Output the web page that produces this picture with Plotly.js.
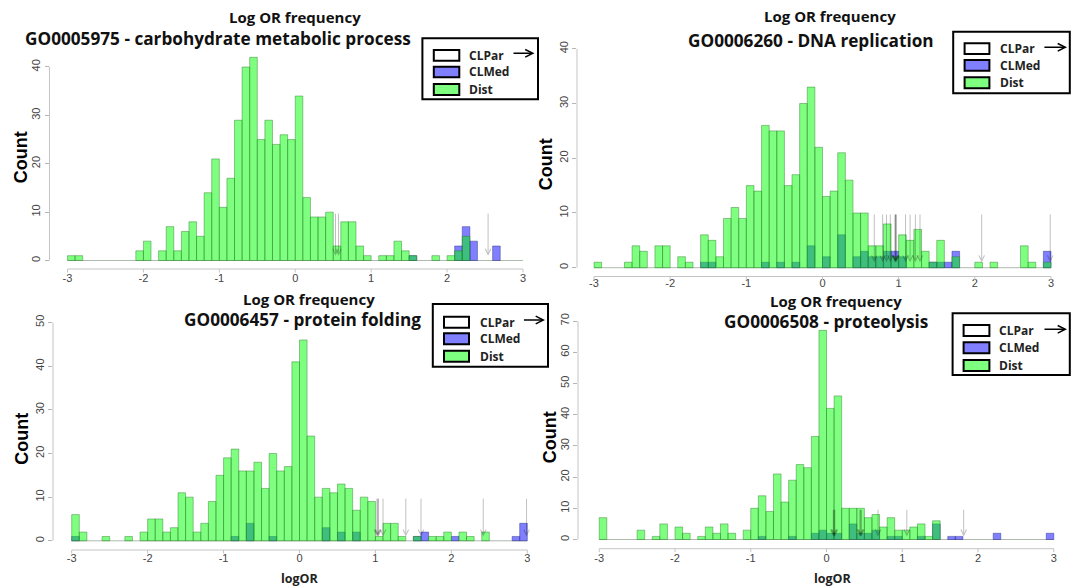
<!DOCTYPE html>
<html><head><meta charset="utf-8">
<script src="https://cdn.plot.ly/plotly-3.0.1.min.js"></script>
<style>html,body{margin:0;padding:0;background:#fff;overflow:hidden}#chart{width:1072px;height:587px}</style>
</head><body><div id="chart"></div>
<script>
// ---- data ----
const binLeft = [-3.0,-2.9,-2.8,-2.7,-2.6,-2.5,-2.4,-2.3,-2.2,-2.1,-2.0,-1.9,-1.8,-1.7,-1.6,-1.5,-1.4,-1.3,-1.2,-1.1,-1.0,-0.9,-0.8,-0.7,-0.6,-0.5,-0.4,-0.3,-0.2,-0.1,0.0,0.1,0.2,0.3,0.4,0.5,0.6,0.7,0.8,0.9,1.0,1.1,1.2,1.3,1.4,1.5,1.6,1.7,1.8,1.9,2.0,2.1,2.2,2.3,2.4,2.5,2.6,2.7,2.8,2.9];

const dist1 = [1,1,0,0,0,0,0,0,0,2, 4,0,2,7,2,6,8,5,14,21, 11,17,29,40,42,25,29,24,26,25, 34,13,9,9,10,3,8,8,3,1, 0,1,1,4,2,1,0,0,1,0, 1,2,5,0,0,0,0,0,0,0];
const med1  = [0,0,0,0,0,0,0,0,0,0, 0,0,0,0,0,0,0,0,0,0, 0,0,0,0,0,0,0,0,0,0, 0,0,0,0,0,0,0,0,0,0, 0,0,0,0,0,1,0,0,0,0, 0,3,7,4,0,0,3,0,0,0];
const par1  = [0.53,0.57,2.54];

const dist2 = [1,0,0,0,1,4,3,0,4,4, 0,2,1,0,6,5,2,9,11,9, 15,14,26,25,25,15,17,30,33,22, 13,14,21,16,10,10,4,4,8,2, 6,5,7,3,1,5,0,2,0,0, 1,0,1,0,0,0,4,1,0,1];
const med2  = [0,0,0,0,0,0,0,0,0,0, 0,0,0,0,1,1,0,0,0,0, 0,0,1,0,1,0,1,0,4,0, 2,0,6,0,2,3,2,2,3,3, 2,0,0,0,1,1,1,3,0,0, 0,0,0,0,0,0,0,0,0,3];
const par2  = [0.68,0.79,0.84,0.89,0.95,0.96,0.96,0.97,1.09,1.15,1.22,1.28,2.09,2.99];

const dist3 = [6,2,0,0,1,0,0,1,0,2, 5,5,2,3,11,10,2,4,9,15, 19,21,16,16,18,12,20,16,17,41, 46,24,10,12,11,13,12,7,10,9, 1,4,4,1,0,1,0,1,1,2, 0,2,1,0,2,0,0,0,0,0];
const med3  = [1,0,0,0,0,0,0,0,0,0, 0,0,0,0,0,0,0,0,0,0, 0,1,0,4,0,0,1,0,0,0, 0,0,0,3,0,2,0,2,0,0, 0,0,0,0,0,1,2,0,0,0, 1,0,0,0,0,0,0,0,1,4];
const par3  = [1.02,1.03,1.04,1.10,1.40,1.60,2.42,2.99];

const dist4 = [7,0,0,0,0,3,0,1,5,0, 4,2,0,1,4,2,5,2,0,3, 10,14,9,21,12,19,24,23,33,67, 42,46,10,10,10,7,8,4,7,3, 3,4,5,1,6,0,0,0,0,0, 0,0,0,0,0,0,0,0,0,0];
const med4  = [0,0,0,0,0,0,0,0,0,0, 0,0,0,0,0,0,0,0,0,0, 0,1,0,0,0,1,0,0,2,3, 2,2,0,5,2,2,3,0,1,1, 0,0,1,0,5,0,1,1,0,0, 0,0,2,0,0,0,0,0,0,2];
const par4  = [0.09,0.10,0.11,0.44,0.45,0.46,0.68,1.06,1.81];

const xTickVals = [-3,-2,-1,0,1,2,3];
const xTickText = ['-3','-2','-1','0','1','2','3'];
const yTicks1 = [0,10,20,30,40];
const yTicks2 = [0,10,20,30,40];
const yTicks3 = [0,10,20,30,40,50];
const yTicks4 = [0,10,20,30,40,50,60,70];

const titleLine1 = 'Log OR frequency';
const goTitles = ['GO0005975 - carbohydrate metabolic process','GO0006260 - DNA replication','GO0006457 - protein folding','GO0006508 - proteolysis'];
const legendLabels = ['CLPar','CLMed','Dist'];

// ---- layout geometry (pixels) ----
const W = 1072, H = 587;
const panels = [
  {dist:dist1, med:med1, par:par1, yt:yTicks1, go:goTitles[0],
   cal:{xm3:67.5, xp3:523, y0:260.5, ytv:40, ytp:67, axX:49.5, axY:269, lblY:278},
   t1:[295,17.3], t2:[218,38.3], count:[20.7,157.5], logor:null,
   leg:{box:[422.4,538,38.3,99.3], sw:[433.8,459.3], rows:[[50,60.7],[66.7,77.3],[84,95]], tx:467.2, arr:[512,534.5,53.3]}},
  {dist:dist2, med:med2, par:par2, yt:yTicks2, go:goTitles[1],
   cal:{xm3:594, xp3:1051, y0:267.7, ytv:40, ytp:48.8, axX:577, axY:276.5, lblY:283.8},
   t1:[830,15.7], t2:[810.5,40], count:[546.3,164], logor:null,
   leg:{box:[953.2,1069.8,31.7,93.3], sw:[964.6,989.4], rows:[[43.3,54],[60,70.7],[77.3,88.3]], tx:998, arr:[1042.9,1067,47.3]}},
  {dist:dist3, med:med3, par:par3, yt:yTicks3, go:goTitles[2],
   cal:{xm3:71.7, xp3:527.3, y0:540.8, ytv:50, ytp:322.5, axX:53, axY:550, lblY:558},
   t1:[309,299], t2:[302,319.5], count:[22.4,438.3], logor:[299.7,578.3],
   leg:{box:[432.8,548,304,366.7], sw:[444,469], rows:[[316.7,327.7],[333.3,344.3],[350.7,361.7]], tx:477.6, arr:[522.4,545,320]}},
  {dist:dist4, med:med4, par:par4, yt:yTicks4, go:goTitles[3],
   cal:{xm3:599.3, xp3:1055.3, y0:539.5, ytv:70, ytp:321, axX:578, axY:548.7, lblY:558},
   t1:[836.4,300.5], t2:[825.6,321.5], count:[549.8,437.5], logor:[832.5,578.3],
   leg:{box:[952.6,1069.8,313.3,375], sw:[963.6,989.4], rows:[[325,336],[342.3,353.3],[360,371]], tx:997.4, arr:[1043,1067,329.3]}}
];

const TICKFONT = {family:'Liberation Sans, Arial, sans-serif', size:11, color:'#444'};
const TITLEFONT = 'Open Sans, Noto Sans, sans-serif';
const AXCOL = '#c4c4c4';
const px = v => v / W;
const py = v => 1 - v / H;

const traces = [];
const shapes = [];
const annotations = [];
const layout = {
  width: W, height: H, margin:{l:0,r:0,t:0,b:0},
  paper_bgcolor:'#fff', plot_bgcolor:'rgba(0,0,0,0)',
  barmode:'overlay', showlegend:false, hovermode:false
};

panels.forEach((p, i) => {
  const n = i + 1;
  const xa = n === 1 ? 'x' : 'x' + n;
  const ya = n === 1 ? 'y' : 'y' + n;
  const c = p.cal;
  const sx = (c.xp3 - c.xm3) / 6;
  const sy = (c.y0 - c.ytp) / c.ytv;
  const xlo = -3 - (c.xm3 - c.axX) / sx;
  const rightPx = c.xp3 + 0.24 * sx;
  const xhi = 3 + (rightPx - c.xp3) / sx;
  const ylo = -(c.axY - c.y0) / sy;
  const yTop = p.yt[p.yt.length - 1];
  const yhi = Math.max(yTop, Math.max(...p.dist), Math.max(...p.med)) * 1.04;
  const topPx = c.y0 - yhi * sy;

  // x axis labels placed close under the drawn axis line (R-style)
  layout['xaxis' + (n === 1 ? '' : n)] = {
    domain:[px(c.axX), px(rightPx)], range:[xlo, xhi], anchor:'free', position:py(c.lblY - 8.5),
    showgrid:false, zeroline:false, showline:false, ticks:'',
    tickmode:'array', tickvals:xTickVals, ticktext:xTickText, tickfont:TICKFONT, fixedrange:true
  };
  layout['yaxis' + (n === 1 ? '' : n)] = {
    domain:[py(c.axY), py(topPx)], range:[ylo, yhi], anchor: xa,
    showgrid:false, zeroline:false, showline:false,
    ticks:'outside', ticklen:4, tickwidth:1, tickcolor:'#b5b5b5',
    tickmode:'array', tickvals:p.yt, ticktext:p.yt.map(String), tickangle:-90, tickfont:TICKFONT, fixedrange:true
  };

  // CLMed (blue) first, then Dist (green) on top
  traces.push({type:'bar', x:binLeft, y:p.med.map(v => v || null), width:0.1, offset:0,
    xaxis:xa, yaxis:ya, marker:{color:'rgba(0,0,255,0.5)', line:{color:'rgba(40,40,130,0.55)', width:0.8}}, hoverinfo:'skip'});
  traces.push({type:'bar', x:binLeft, y:p.dist.map(v => v || null), width:0.1, offset:0,
    xaxis:xa, yaxis:ya, marker:{color:'rgba(0,255,0,0.5)', line:{color:'rgba(40,120,40,0.55)', width:0.8}}, hoverinfo:'skip'});

  // baseline of histogram bins
  shapes.push({type:'line', xref:xa, yref:ya, x0:-3, x1:3, y0:0, y1:0, layer:'below',
    line:{color:'rgba(120,140,120,0.6)', width:1}});
  // axis lines (R style: only across tick range) and x tick marks
  shapes.push({type:'line', xref:xa, yref:'paper', x0:-3, x1:3, y0:py(c.axY), y1:py(c.axY),
    line:{color:AXCOL, width:1}});
  xTickVals.forEach(t => {
    shapes.push({type:'line', xref:xa, yref:'paper', x0:t, x1:t, y0:py(c.axY), y1:py(c.axY + 3.5),
      line:{color:AXCOL, width:1}});
  });
  shapes.push({type:'line', xref:'paper', yref:ya, x0:px(c.axX), x1:px(c.axX), y0:0, y1:yTop,
    line:{color:AXCOL, width:1}});

  // CLPar arrows
  p.par.forEach(v => {
    annotations.push({xref:xa, yref:ya, axref:xa, ayref:ya, x:v, y:1, ax:v, ay:10, text:'',
      showarrow:true, arrowhead:5, arrowsize:1.1, arrowwidth:1, arrowcolor:'rgba(0,0,0,0.24)'});
  });

  // titles
  annotations.push({xref:'paper', yref:'paper', x:px(p.t1[0]), y:py(p.t1[1]), xanchor:'center', yanchor:'middle',
    text:titleLine1, showarrow:false, font:{family:TITLEFONT, size:15, color:'#111', weight:700}});
  annotations.push({xref:'paper', yref:'paper', x:px(p.t2[0]), y:py(p.t2[1]), xanchor:'center', yanchor:'middle',
    text:p.go, showarrow:false, font:{family:TITLEFONT, size:17.2, color:'#111', weight:700}});
  annotations.push({xref:'paper', yref:'paper', x:px(p.count[0]), y:py(p.count[1]), xanchor:'center', yanchor:'middle',
    text:'Count', textangle:-90, showarrow:false, font:{family:'Liberation Sans, Arial, sans-serif', size:18, color:'#000', weight:700}});
  if (p.logor) {
    annotations.push({xref:'paper', yref:'paper', x:px(p.logor[0]), y:py(p.logor[1]), xanchor:'center', yanchor:'middle',
      text:'logOR', showarrow:false, font:{family:TITLEFONT, size:12.5, color:'#222', weight:700}});
  }

  // legend
  const L = p.leg;
  shapes.push({type:'rect', xref:'paper', yref:'paper', x0:px(L.box[0]), x1:px(L.box[1]), y0:py(L.box[3]), y1:py(L.box[2]),
    fillcolor:'rgba(255,255,255,1)', line:{color:'#000', width:2}});
  const fills = ['#ffffff', '#7f7fff', '#7fff7f'];
  L.rows.forEach((r, k) => {
    shapes.push({type:'rect', xref:'paper', yref:'paper', x0:px(L.sw[0]), x1:px(L.sw[1]), y0:py(r[1]), y1:py(r[0]),
      fillcolor:fills[k], line:{color:'#000', width:2}});
    annotations.push({xref:'paper', yref:'paper', x:px(L.tx), y:py((r[0] + r[1]) / 2), xanchor:'left', yanchor:'middle',
      text:legendLabels[k], showarrow:false, font:{family:TITLEFONT, size:12, color:'#222', weight:700}});
  });
  annotations.push({xref:'paper', yref:'paper', x:px(L.arr[1]), y:py(L.arr[2]), ax:-(L.arr[1] - L.arr[0]), ay:0,
    text:'', showarrow:true, arrowhead:5, arrowsize:1, arrowwidth:1.5, arrowcolor:'#000'});
});

layout.shapes = shapes;
layout.annotations = annotations;
Plotly.newPlot('chart', traces, layout, {staticPlot:true, displayModeBar:false});
</script>
</body></html>
